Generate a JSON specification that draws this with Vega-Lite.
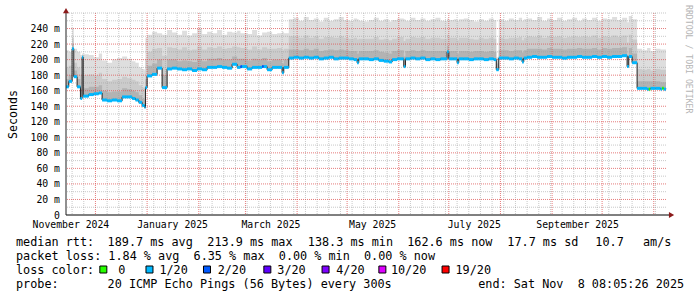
{
  "$schema": "https://vega.github.io/schema/vega-lite/v6.json",
  "width": 600,
  "height": 202,
  "autosize": {"type": "none"},
  "padding": {"left": 66, "top": 13, "right": 31, "bottom": 82},
  "background": "#ffffff",
  "config": {"view": {"stroke": null}, "font": "DejaVu Sans Mono", "axis": {"labelOverlap": false, "labelSeparation": 0}},
  "title": {"text": "RRDTOOL / TOBI OETIKER", "orient": "right", "anchor": "start", "frame": "group", "offset": 0, "dx": -8, "fontSize": 8.2, "font": "DejaVu Sans Mono", "fontWeight": "normal", "color": "#b5b5b5"},
  "datasets": {
    "smoke": [
      {"t":"2024-11-13T08:05:00Z","med":165,"h3":175,"h2":190,"mx":212,"loss":"1/20"},
      {"t":"2024-11-15","med":172,"h3":180,"h2":192,"mx":210,"loss":"1/20"},
      {"t":"2024-11-17","med":214,"h3":220,"h2":228,"mx":241,"loss":"1/20"},
      {"t":"2024-11-18","med":178,"h3":186,"h2":196,"mx":214,"loss":"1/20"},
      {"t":"2024-11-20","med":165,"h3":175,"h2":190,"mx":210,"loss":"1/20"},
      {"t":"2024-11-22","med":150,"h3":162,"h2":180,"mx":206,"loss":"1/20"},
      {"t":"2024-11-23","med":203,"h3":205,"h2":206,"mx":208,"loss":"1/20"},
      {"t":"2024-11-23T16:00:00Z","med":153,"h3":163,"h2":180,"mx":207,"loss":"1/20"},
      {"t":"2024-11-27","med":155,"h3":165,"h2":181,"mx":206,"loss":"1/20"},
      {"t":"2024-11-30","med":156,"h3":165,"h2":180,"mx":203,"loss":"1/20"},
      {"t":"2024-12-03","med":157,"h3":167,"h2":183,"mx":208,"loss":"1/20"},
      {"t":"2024-12-05","med":148,"h3":160,"h2":175,"mx":199,"loss":"1/20"},
      {"t":"2024-12-08","med":147,"h3":158,"h2":172,"mx":196,"loss":"1/20"},
      {"t":"2024-12-11","med":148,"h3":159,"h2":174,"mx":200,"loss":"1/20"},
      {"t":"2024-12-14","med":147,"h3":159,"h2":175,"mx":202,"loss":"1/20"},
      {"t":"2024-12-17","med":152,"h3":163,"h2":178,"mx":204,"loss":"1/20"},
      {"t":"2024-12-20","med":152,"h3":162,"h2":176,"mx":201,"loss":"1/20"},
      {"t":"2024-12-23","med":150,"h3":160,"h2":174,"mx":198,"loss":"1/20"},
      {"t":"2024-12-25","med":148,"h3":158,"h2":172,"mx":196,"loss":"1/20"},
      {"t":"2024-12-27","med":145,"h3":154,"h2":167,"mx":190,"loss":"1/20"},
      {"t":"2024-12-29","med":141,"h3":150,"h2":164,"mx":188,"loss":"1/20"},
      {"t":"2024-12-30T12:00:00Z","med":138.5,"h3":148,"h2":162,"mx":186,"loss":"1/20"},
      {"t":"2024-12-31","med":164,"h3":175,"h2":200,"mx":228,"loss":"1/20"},
      {"t":"2025-01-01","med":179,"h3":192,"h2":210,"mx":232,"loss":"1/20"},
      {"t":"2025-01-04","med":181,"h3":195,"h2":214,"mx":236,"loss":"1/20"},
      {"t":"2025-01-07","med":189,"h3":200,"h2":215,"mx":234,"loss":"1/20"},
      {"t":"2025-01-10","med":164,"h3":180,"h2":205,"mx":232,"loss":"1/20"},
      {"t":"2025-01-13","med":188,"h3":200,"h2":216,"mx":238,"loss":"1/20"},
      {"t":"2025-01-16","med":189,"h3":200,"h2":215,"mx":235,"loss":"1/20"},
      {"t":"2025-01-19","med":188,"h3":198,"h2":213,"mx":232,"loss":"1/20"},
      {"t":"2025-01-22","med":187,"h3":199,"h2":216,"mx":237,"loss":"1/20"},
      {"t":"2025-01-25","med":188,"h3":198,"h2":212,"mx":231,"loss":"1/20"},
      {"t":"2025-01-28","med":186,"h3":197,"h2":213,"mx":234,"loss":"1/20"},
      {"t":"2025-01-31","med":188,"h3":200,"h2":217,"mx":240,"loss":"1/20"},
      {"t":"2025-02-03","med":187,"h3":198,"h2":213,"mx":233,"loss":"1/20"},
      {"t":"2025-02-06","med":190,"h3":201,"h2":216,"mx":236,"loss":"1/20"},
      {"t":"2025-02-09","med":190,"h3":201,"h2":215,"mx":234,"loss":"1/20"},
      {"t":"2025-02-12","med":191,"h3":202,"h2":217,"mx":238,"loss":"1/20"},
      {"t":"2025-02-15","med":190,"h3":200,"h2":214,"mx":232,"loss":"1/20"},
      {"t":"2025-02-18","med":189,"h3":200,"h2":215,"mx":236,"loss":"1/20"},
      {"t":"2025-02-21","med":194,"h3":204,"h2":217,"mx":235,"loss":"1/20"},
      {"t":"2025-02-24","med":190,"h3":201,"h2":216,"mx":237,"loss":"1/20"},
      {"t":"2025-02-26","med":191,"h3":201,"h2":215,"mx":234,"loss":"2/20"},
      {"t":"2025-02-27","med":191,"h3":201,"h2":215,"mx":234,"loss":"1/20"},
      {"t":"2025-03-02","med":188,"h3":199,"h2":213,"mx":233,"loss":"1/20"},
      {"t":"2025-03-05","med":190,"h3":201,"h2":217,"mx":238,"loss":"1/20"},
      {"t":"2025-03-08","med":190,"h3":200,"h2":213,"mx":231,"loss":"1/20"},
      {"t":"2025-03-11","med":191,"h3":202,"h2":216,"mx":235,"loss":"2/20"},
      {"t":"2025-03-12","med":191,"h3":202,"h2":216,"mx":235,"loss":"1/20"},
      {"t":"2025-03-14","med":187,"h3":198,"h2":214,"mx":236,"loss":"1/20"},
      {"t":"2025-03-17","med":190,"h3":200,"h2":214,"mx":233,"loss":"1/20"},
      {"t":"2025-03-20","med":190,"h3":200,"h2":215,"mx":234,"loss":"1/20"},
      {"t":"2025-03-23","med":183,"h3":195,"h2":212,"mx":236,"loss":"1/20"},
      {"t":"2025-03-24","med":190,"h3":200,"h2":214,"mx":234,"loss":"1/20"},
      {"t":"2025-03-27","med":202,"h3":213,"h2":230,"mx":252,"loss":"1/20"},
      {"t":"2025-03-30","med":203,"h3":213,"h2":230,"mx":254,"loss":"1/20"},
      {"t":"2025-04-02","med":202,"h3":212,"h2":228,"mx":250,"loss":"1/20"},
      {"t":"2025-04-05","med":203,"h3":214,"h2":231,"mx":255,"loss":"1/20"},
      {"t":"2025-04-08","med":202,"h3":212,"h2":228,"mx":251,"loss":"1/20"},
      {"t":"2025-04-11","med":203,"h3":214,"h2":230,"mx":253,"loss":"1/20"},
      {"t":"2025-04-14","med":201,"h3":211,"h2":227,"mx":249,"loss":"1/20"},
      {"t":"2025-04-17","med":202,"h3":212,"h2":229,"mx":254,"loss":"1/20"},
      {"t":"2025-04-20","med":203,"h3":213,"h2":229,"mx":250,"loss":"1/20"},
      {"t":"2025-04-23","med":201,"h3":212,"h2":228,"mx":252,"loss":"1/20"},
      {"t":"2025-04-26","med":202,"h3":213,"h2":230,"mx":255,"loss":"1/20"},
      {"t":"2025-04-29","med":202,"h3":212,"h2":228,"mx":251,"loss":"1/20"},
      {"t":"2025-05-02","med":201,"h3":211,"h2":227,"mx":250,"loss":"1/20"},
      {"t":"2025-05-05","med":200,"h3":211,"h2":228,"mx":253,"loss":"1/20"},
      {"t":"2025-05-07","med":196,"h3":208,"h2":226,"mx":252,"loss":"1/20"},
      {"t":"2025-05-08","med":201,"h3":211,"h2":227,"mx":250,"loss":"1/20"},
      {"t":"2025-05-11","med":201,"h3":211,"h2":227,"mx":249,"loss":"1/20"},
      {"t":"2025-05-14","med":200,"h3":211,"h2":227,"mx":251,"loss":"1/20"},
      {"t":"2025-05-17","med":201,"h3":212,"h2":229,"mx":254,"loss":"1/20"},
      {"t":"2025-05-20","med":199,"h3":210,"h2":226,"mx":250,"loss":"1/20"},
      {"t":"2025-05-23","med":198,"h3":209,"h2":227,"mx":252,"loss":"1/20"},
      {"t":"2025-05-26","med":197,"h3":208,"h2":225,"mx":249,"loss":"1/20"},
      {"t":"2025-05-28","med":200,"h3":211,"h2":227,"mx":251,"loss":"1/20"},
      {"t":"2025-05-31","med":201,"h3":212,"h2":229,"mx":253,"loss":"1/20"},
      {"t":"2025-06-04","med":191,"h3":204,"h2":224,"mx":252,"loss":"1/20"},
      {"t":"2025-06-05","med":201,"h3":211,"h2":227,"mx":250,"loss":"1/20"},
      {"t":"2025-06-08","med":202,"h3":212,"h2":229,"mx":254,"loss":"1/20"},
      {"t":"2025-06-11","med":201,"h3":211,"h2":228,"mx":251,"loss":"1/20"},
      {"t":"2025-06-14","med":202,"h3":212,"h2":229,"mx":253,"loss":"1/20"},
      {"t":"2025-06-17","med":200,"h3":211,"h2":227,"mx":250,"loss":"1/20"},
      {"t":"2025-06-20","med":201,"h3":211,"h2":228,"mx":252,"loss":"1/20"},
      {"t":"2025-06-23","med":200,"h3":211,"h2":228,"mx":254,"loss":"1/20"},
      {"t":"2025-06-26","med":201,"h3":211,"h2":227,"mx":250,"loss":"1/20"},
      {"t":"2025-06-30","med":210,"h3":218,"h2":232,"mx":253,"loss":"1/20"},
      {"t":"2025-07-01","med":201,"h3":211,"h2":228,"mx":251,"loss":"1/20"},
      {"t":"2025-07-04","med":201,"h3":211,"h2":228,"mx":252,"loss":"1/20"},
      {"t":"2025-07-06","med":196,"h3":208,"h2":225,"mx":250,"loss":"1/20"},
      {"t":"2025-07-07","med":201,"h3":211,"h2":228,"mx":252,"loss":"1/20"},
      {"t":"2025-07-10","med":201,"h3":211,"h2":228,"mx":253,"loss":"1/20"},
      {"t":"2025-07-13","med":200,"h3":210,"h2":227,"mx":251,"loss":"1/20"},
      {"t":"2025-07-16","med":201,"h3":211,"h2":226,"mx":249,"loss":"1/20"},
      {"t":"2025-07-19","med":201,"h3":211,"h2":228,"mx":252,"loss":"1/20"},
      {"t":"2025-07-22","med":200,"h3":210,"h2":227,"mx":250,"loss":"1/20"},
      {"t":"2025-07-25","med":201,"h3":211,"h2":228,"mx":253,"loss":"1/20"},
      {"t":"2025-07-28","med":200,"h3":210,"h2":227,"mx":251,"loss":"1/20"},
      {"t":"2025-07-29T12:00:00Z","med":187,"h3":195,"h2":198,"mx":203,"loss":"1/20"},
      {"t":"2025-07-31","med":202,"h3":212,"h2":228,"mx":252,"loss":"1/20"},
      {"t":"2025-08-03","med":202,"h3":212,"h2":227,"mx":250,"loss":"1/20"},
      {"t":"2025-08-06","med":201,"h3":211,"h2":228,"mx":253,"loss":"1/20"},
      {"t":"2025-08-09","med":202,"h3":212,"h2":228,"mx":251,"loss":"1/20"},
      {"t":"2025-08-12","med":201,"h3":212,"h2":229,"mx":254,"loss":"1/20"},
      {"t":"2025-08-14","med":197,"h3":209,"h2":225,"mx":250,"loss":"1/20"},
      {"t":"2025-08-15","med":202,"h3":212,"h2":228,"mx":252,"loss":"1/20"},
      {"t":"2025-08-17","med":203,"h3":214,"h2":230,"mx":253,"loss":"1/20"},
      {"t":"2025-08-20","med":204,"h3":214,"h2":229,"mx":251,"loss":"1/20"},
      {"t":"2025-08-23","med":203,"h3":214,"h2":231,"mx":255,"loss":"1/20"},
      {"t":"2025-08-26","med":203,"h3":213,"h2":228,"mx":250,"loss":"1/20"},
      {"t":"2025-08-29","med":204,"h3":215,"h2":230,"mx":253,"loss":"1/20"},
      {"t":"2025-09-01","med":203,"h3":214,"h2":229,"mx":251,"loss":"1/20"},
      {"t":"2025-09-04","med":203,"h3":214,"h2":230,"mx":254,"loss":"1/20"},
      {"t":"2025-09-07","med":202,"h3":213,"h2":228,"mx":250,"loss":"1/20"},
      {"t":"2025-09-10","med":203,"h3":214,"h2":229,"mx":252,"loss":"1/20"},
      {"t":"2025-09-13","med":203,"h3":214,"h2":230,"mx":254,"loss":"1/20"},
      {"t":"2025-09-16","med":204,"h3":215,"h2":229,"mx":250,"loss":"1/20"},
      {"t":"2025-09-19","med":203,"h3":214,"h2":230,"mx":253,"loss":"1/20"},
      {"t":"2025-09-22","med":203,"h3":214,"h2":229,"mx":251,"loss":"1/20"},
      {"t":"2025-09-25","med":204,"h3":215,"h2":231,"mx":254,"loss":"1/20"},
      {"t":"2025-09-28","med":203,"h3":213,"h2":228,"mx":250,"loss":"1/20"},
      {"t":"2025-10-01","med":204,"h3":215,"h2":230,"mx":253,"loss":"1/20"},
      {"t":"2025-10-04","med":203,"h3":214,"h2":229,"mx":252,"loss":"1/20"},
      {"t":"2025-10-07","med":204,"h3":215,"h2":231,"mx":255,"loss":"1/20"},
      {"t":"2025-10-10","med":204,"h3":215,"h2":229,"mx":251,"loss":"1/20"},
      {"t":"2025-10-13","med":205,"h3":216,"h2":231,"mx":254,"loss":"1/20"},
      {"t":"2025-10-16","med":191,"h3":204,"h2":222,"mx":248,"loss":"1/20"},
      {"t":"2025-10-17","med":204,"h3":215,"h2":232,"mx":256,"loss":"1/20"},
      {"t":"2025-10-19","med":196,"h3":208,"h2":226,"mx":252,"loss":"1/20"},
      {"t":"2025-10-22","med":163,"h3":172,"h2":188,"mx":214,"loss":"1/20"},
      {"t":"2025-10-25","med":163,"h3":172,"h2":187,"mx":212,"loss":"1/20"},
      {"t":"2025-10-28","med":162,"h3":172,"h2":188,"mx":215,"loss":"1/20"},
      {"t":"2025-10-29","med":162,"h3":172,"h2":188,"mx":215,"loss":"0"},
      {"t":"2025-10-30","med":163,"h3":172,"h2":186,"mx":211,"loss":"1/20"},
      {"t":"2025-11-02","med":163,"h3":172,"h2":188,"mx":214,"loss":"1/20"},
      {"t":"2025-11-05","med":162,"h3":171,"h2":187,"mx":213,"loss":"1/20"},
      {"t":"2025-11-06","med":163,"h3":171,"h2":187,"mx":213,"loss":"0"},
      {"t":"2025-11-07","med":162,"h3":171,"h2":187,"mx":213,"loss":"1/20"},
      {"t":"2025-11-08T08:05:00Z","med":162.6,"h3":171,"h2":187,"mx":213,"loss":"1/20"}
    ],
    "vgrid": [
      {"t":"2024-12-01","k":"major"},{"t":"2025-01-01","k":"major"},{"t":"2025-02-01","k":"major"},{"t":"2025-03-01","k":"major"},
      {"t":"2025-04-01","k":"major"},{"t":"2025-05-01","k":"major"},{"t":"2025-06-01","k":"major"},{"t":"2025-07-01","k":"major"},
      {"t":"2025-08-01","k":"major"},{"t":"2025-09-01","k":"major"},{"t":"2025-10-01","k":"major"},{"t":"2025-11-01","k":"major"},
      {"t":"2024-11-17","k":"minor"},{"t":"2024-11-24","k":"minor"},{"t":"2024-12-08","k":"minor"},{"t":"2024-12-15","k":"minor"},
      {"t":"2024-12-22","k":"minor"},{"t":"2024-12-29","k":"minor"},{"t":"2025-01-05","k":"minor"},{"t":"2025-01-12","k":"minor"},
      {"t":"2025-01-19","k":"minor"},{"t":"2025-01-26","k":"minor"},{"t":"2025-02-02","k":"minor"},{"t":"2025-02-09","k":"minor"},
      {"t":"2025-02-16","k":"minor"},{"t":"2025-02-23","k":"minor"},{"t":"2025-03-02","k":"minor"},{"t":"2025-03-09","k":"minor"},
      {"t":"2025-03-16","k":"minor"},{"t":"2025-03-23","k":"minor"},{"t":"2025-03-30","k":"minor"},{"t":"2025-04-06","k":"minor"},
      {"t":"2025-04-13","k":"minor"},{"t":"2025-04-20","k":"minor"},{"t":"2025-04-27","k":"minor"},{"t":"2025-05-04","k":"minor"},
      {"t":"2025-05-11","k":"minor"},{"t":"2025-05-18","k":"minor"},{"t":"2025-05-25","k":"minor"},{"t":"2025-06-08","k":"minor"},
      {"t":"2025-06-15","k":"minor"},{"t":"2025-06-22","k":"minor"},{"t":"2025-06-29","k":"minor"},{"t":"2025-07-06","k":"minor"},
      {"t":"2025-07-13","k":"minor"},{"t":"2025-07-20","k":"minor"},{"t":"2025-07-27","k":"minor"},{"t":"2025-08-03","k":"minor"},
      {"t":"2025-08-10","k":"minor"},{"t":"2025-08-17","k":"minor"},{"t":"2025-08-24","k":"minor"},{"t":"2025-08-31","k":"minor"},
      {"t":"2025-09-07","k":"minor"},{"t":"2025-09-14","k":"minor"},{"t":"2025-09-21","k":"minor"},{"t":"2025-09-28","k":"minor"},
      {"t":"2025-10-05","k":"minor"},{"t":"2025-10-12","k":"minor"},{"t":"2025-10-19","k":"minor"},{"t":"2025-10-26","k":"minor"},
      {"t":"2025-11-02","k":"minor"}
    ],
    "hgrid": [
      {"v":20,"k":"major"},{"v":40,"k":"major"},{"v":60,"k":"major"},{"v":80,"k":"major"},{"v":100,"k":"major"},{"v":120,"k":"major"},
      {"v":140,"k":"major"},{"v":160,"k":"major"},{"v":180,"k":"major"},{"v":200,"k":"major"},{"v":220,"k":"major"},{"v":240,"k":"major"},
      {"v":10,"k":"minor"},{"v":30,"k":"minor"},{"v":50,"k":"minor"},{"v":70,"k":"minor"},{"v":90,"k":"minor"},{"v":110,"k":"minor"},
      {"v":130,"k":"minor"},{"v":150,"k":"minor"},{"v":170,"k":"minor"},{"v":190,"k":"minor"},{"v":210,"k":"minor"},{"v":230,"k":"minor"},
      {"v":250,"k":"minor"},{"v":260,"k":"minor"}
    ],
    "legendText": [
      {"line":1,"col":0,"txt":"median\u00a0rtt:"},
      {"line":1,"col":12.9,"txt":"189.7\u00a0ms\u00a0avg"},
      {"line":1,"col":26.95,"txt":"213.9\u00a0ms\u00a0max"},
      {"line":1,"col":41.1,"txt":"138.3\u00a0ms\u00a0min"},
      {"line":1,"col":55.1,"txt":"162.6\u00a0ms\u00a0now"},
      {"line":1,"col":69.2,"txt":"17.7\u00a0ms\u00a0sd"},
      {"line":1,"col":81.6,"txt":"10.7"},
      {"line":1,"col":88.3,"txt":"am/s"},
      {"line":2,"col":0,"txt":"packet\u00a0loss:\u00a01.84\u00a0%\u00a0avg\u00a0\u00a06.35\u00a0%\u00a0max\u00a0\u00a00.00\u00a0%\u00a0min\u00a0\u00a00.00\u00a0%\u00a0now"},
      {"line":3,"col":0,"txt":"loss\u00a0color:"},
      {"line":3,"col":14.4,"txt":"0"},
      {"line":3,"col":20.2,"txt":"1/20"},
      {"line":3,"col":28.4,"txt":"2/20"},
      {"line":3,"col":36.8,"txt":"3/20"},
      {"line":3,"col":45.1,"txt":"4/20"},
      {"line":3,"col":52.8,"txt":"10/20"},
      {"line":3,"col":61.9,"txt":"19/20"},
      {"line":4,"col":0,"txt":"probe:"},
      {"line":4,"col":12.9,"txt":"20\u00a0ICMP\u00a0Echo\u00a0Pings\u00a0(56\u00a0Bytes)\u00a0every\u00a0300s"},
      {"line":4,"col":65.1,"txt":"end:\u00a0Sat\u00a0Nov\u00a0\u00a08\u00a008:05:26\u00a02025"}
    ],
    "legendBoxes": [
      {"line":3,"col":12.3,"loss":"0"},
      {"line":3,"col":18.8,"loss":"1/20"},
      {"line":3,"col":26.9,"loss":"2/20"},
      {"line":3,"col":35.4,"loss":"3/20"},
      {"line":3,"col":43.6,"loss":"4/20"},
      {"line":3,"col":51.6,"loss":"10/20"},
      {"line":3,"col":60.5,"loss":"19/20"}
    ]
  },
  "layer": [
    {
      "layer": [
        {
          "data": {"name": "smoke"},
          "mark": {"type": "area", "interpolate": "step-after", "color": "#dedede"},
          "encoding": {
            "x": {"field": "t", "type": "temporal",
              "scale": {"type": "utc", "domain": [{"year": 2024, "month": 11, "date": 13, "hours": 8, "minutes": 5, "utc": true}, {"year": 2025, "month": 11, "date": 8, "hours": 8, "minutes": 5, "utc": true}], "nice": false},
              "axis": {"orient": "bottom", "title": null, "grid": false, "ticks": false, "tickSize": 0, "domain": false, "tickCount": 40,
                "values": [{"year": 2024, "month": 11, "date": 16, "utc": true}, {"year": 2025, "month": 1, "date": 16, "utc": true}, {"year": 2025, "month": 3, "date": 16, "utc": true}, {"year": 2025, "month": 5, "date": 16, "utc": true}, {"year": 2025, "month": 7, "date": 16, "utc": true}, {"year": 2025, "month": 9, "date": 16, "utc": true}],
                "labelExpr": "utcFormat(datum.value, '%B %Y')", "labelFont": "DejaVu Sans Mono", "labelFontSize": 9.8, "labelColor": "#000000", "labelPadding": 4, "labelFlush": false, "labelOverlap": false}},
            "y": {"field": "med", "type": "quantitative",
              "scale": {"domain": [0, 260], "nice": false, "zero": true},
              "axis": {"title": "Seconds", "titleFont": "DejaVu Sans Mono", "titleFontSize": 11.6, "titleFontWeight": "normal", "titleColor": "#000000", "titlePadding": 12,
                "grid": false, "ticks": false, "tickSize": 0, "domain": false, "tickCount": 40,
                "values": [0, 20, 40, 60, 80, 100, 120, 140, 160, 180, 200, 220, 240],
                "labelExpr": "datum.value == 0 ? '0' : datum.value + ' m'", "labelFont": "DejaVu Sans Mono", "labelFontSize": 9.8, "labelColor": "#000000", "labelPadding": 6.5, "labelFlush": false, "labelOverlap": false, "labelBound": false}},
            "y2": {"field": "mx"}
          }
        },
        {
          "data": {"name": "smoke"},
          "mark": {"type": "area", "interpolate": "step-after", "color": "#cbcbcb"},
          "encoding": {
            "x": {"field": "t", "type": "temporal"},
            "y": {"field": "med", "type": "quantitative"},
            "y2": {"field": "h2"}
          }
        },
        {
          "data": {"name": "smoke"},
          "mark": {"type": "area", "interpolate": "step-after", "color": "#b3b3b3"},
          "encoding": {
            "x": {"field": "t", "type": "temporal"},
            "y": {"field": "med", "type": "quantitative"},
            "y2": {"field": "h3"}
          }
        },
        {
          "data": {"name": "vgrid"},
          "transform": [{"filter": "datum.k == 'minor'"}],
          "mark": {"type": "rule", "color": "#9a9a9a", "opacity": 0.55, "strokeDash": [1, 1], "strokeWidth": 1},
          "encoding": {"x": {"field": "t", "type": "temporal"}}
        },
        {
          "data": {"name": "vgrid"},
          "transform": [{"filter": "datum.k == 'major'"}],
          "mark": {"type": "rule", "color": "#de5050", "opacity": 0.75, "strokeDash": [1, 1], "strokeWidth": 1},
          "encoding": {"x": {"field": "t", "type": "temporal"}}
        },
        {
          "data": {"name": "hgrid"},
          "transform": [{"filter": "datum.k == 'minor'"}],
          "mark": {"type": "rule", "color": "#9a9a9a", "opacity": 0.55, "strokeDash": [1, 1], "strokeWidth": 1},
          "encoding": {"y": {"field": "v", "type": "quantitative"}}
        },
        {
          "data": {"name": "hgrid"},
          "transform": [{"filter": "datum.k == 'major'"}],
          "mark": {"type": "rule", "color": "#de5050", "opacity": 0.75, "strokeDash": [1, 1], "strokeWidth": 1},
          "encoding": {"y": {"field": "v", "type": "quantitative"}}
        },
        {
          "data": {"name": "smoke"},
          "mark": {"type": "line", "interpolate": "step-after", "color": "#202020", "strokeWidth": 1},
          "encoding": {
            "x": {"field": "t", "type": "temporal"},
            "y": {"field": "med", "type": "quantitative"}
          }
        },
        {
          "data": {"name": "smoke"},
          "transform": [
            {"window": [{"op": "lead", "field": "t", "as": "t2"}], "sort": [{"field": "t", "order": "ascending"}]},
            {"filter": "datum.t2 != null"}
          ],
          "mark": {"type": "rule", "strokeWidth": 3},
          "encoding": {
            "x": {"field": "t", "type": "temporal"},
            "x2": {"field": "t2"},
            "y": {"field": "med", "type": "quantitative"},
            "color": {"field": "loss", "type": "nominal", "legend": null,
              "scale": {"domain": ["0", "1/20", "2/20", "3/20", "4/20", "10/20", "19/20"], "range": ["#26ff00", "#00b8ff", "#0059ff", "#5e00ff", "#7e00ff", "#dd00ff", "#ff0000"]}}
          }
        },
        {
          "data": {"values": [{}]},
          "mark": {"type": "rule", "color": "#000000", "strokeWidth": 1},
          "encoding": {
            "x": {"datum": {"year": 2024, "month": 11, "date": 13, "hours": 8, "minutes": 5, "utc": true}, "type": "temporal"},
            "x2": {"datum": {"year": 2025, "month": 11, "date": 11, "utc": true}},
            "y": {"datum": 0, "type": "quantitative"}
          }
        },
        {
          "data": {"values": [{}]},
          "mark": {"type": "rule", "color": "#202020", "strokeWidth": 1},
          "encoding": {
            "x": {"datum": {"year": 2024, "month": 11, "date": 13, "hours": 8, "minutes": 5, "utc": true}, "type": "temporal"},
            "y": {"datum": 0, "type": "quantitative"},
            "y2": {"datum": 262}
          }
        },
        {
          "data": {"values": [{}]},
          "mark": {"type": "point", "shape": "triangle-right", "filled": true, "color": "#8b1a1a", "size": 36, "opacity": 1},
          "encoding": {
            "x": {"datum": {"year": 2025, "month": 11, "date": 11, "hours": 16, "utc": true}, "type": "temporal"},
            "y": {"datum": 0, "type": "quantitative"}
          }
        },
        {
          "data": {"values": [{}]},
          "mark": {"type": "point", "shape": "triangle-up", "filled": true, "color": "#8b1a1a", "size": 36, "opacity": 1},
          "encoding": {
            "x": {"datum": {"year": 2024, "month": 11, "date": 13, "hours": 8, "minutes": 5, "utc": true}, "type": "temporal"},
            "y": {"datum": 263, "type": "quantitative"}
          }
        }
      ]
    },
    {
      "layer": [
        {
          "data": {"name": "legendText"},
          "mark": {"type": "text", "align": "left", "baseline": "alphabetic", "font": "DejaVu Sans Mono", "fontSize": 11.8, "color": "#000000"},
          "encoding": {
            "x": {"field": "col", "type": "quantitative", "scale": {"domain": [0, 100], "range": [-50, 660], "zero": false, "nice": false}, "axis": null},
            "y": {"field": "line", "type": "quantitative", "scale": {"domain": [1, 4], "range": [233, 275], "zero": false, "nice": false}, "axis": null},
            "text": {"field": "txt", "type": "nominal"}
          }
        },
        {
          "data": {"name": "legendBoxes"},
          "mark": {"type": "point", "shape": "square", "filled": true, "size": 49, "stroke": "#000000", "strokeWidth": 1, "opacity": 1, "yOffset": -4.5},
          "encoding": {
            "x": {"field": "col", "type": "quantitative", "axis": null},
            "y": {"field": "line", "type": "quantitative", "axis": null},
            "color": {"field": "loss", "type": "nominal", "legend": null}
          }
        }
      ]
    }
  ],
  "resolve": {"scale": {"x": "independent", "y": "independent"}}
}
